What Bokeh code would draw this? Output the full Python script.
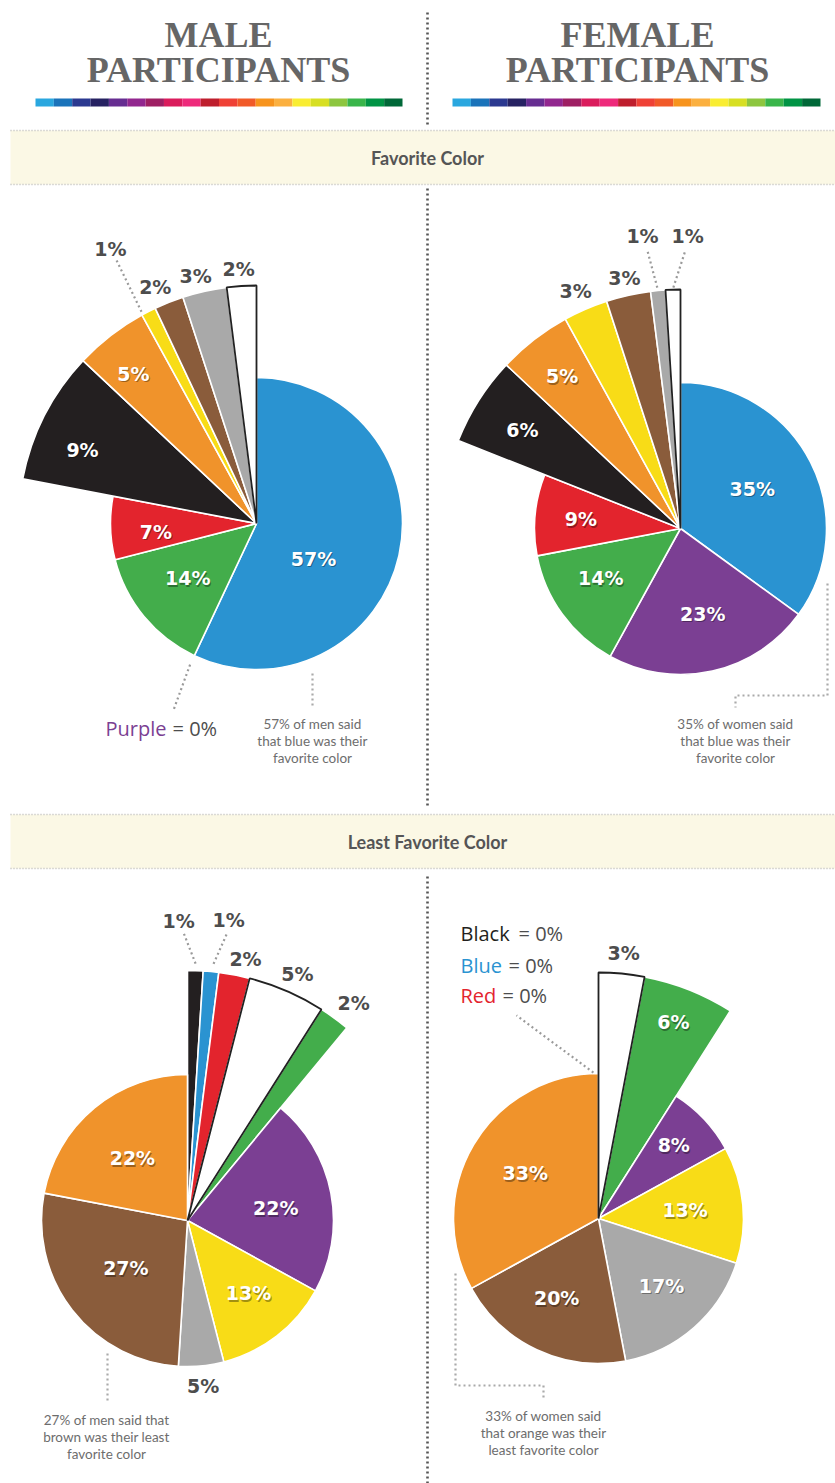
import math
from bokeh.plotting import figure
from bokeh.models import Range1d, ColumnDataSource
from bokeh.embed import file_html
from bokeh.resources import INLINE
from bokeh.core.properties import value

# ---------------- data ----------------
FAV_ORDER = ["Blue", "Purple", "Green", "Red", "Black", "Orange", "Yellow", "Brown", "Gray", "White"]
MALE_FAV = [57, 0, 14, 7, 9, 5, 1, 2, 3, 2]
FEMALE_FAV = [35, 23, 14, 9, 6, 5, 3, 3, 1, 1]

LEAST_ORDER = ["Black", "Blue", "Red", "White", "Green", "Purple", "Yellow", "Gray", "Brown", "Orange"]
MALE_LEAST = [1, 1, 2, 5, 2, 22, 13, 5, 27, 22]
FEMALE_LEAST = [0, 0, 0, 3, 6, 8, 13, 17, 20, 33]

HEADER_LEFT = ["MALE", "PARTICIPANTS"]
HEADER_RIGHT = ["FEMALE", "PARTICIPANTS"]
SECTION_TITLES = ["Favorite Color", "Least Favorite Color"]

# ---------------- styles ----------------
W, H = 835, 1483
SLICE_COLORS = {
    "Blue": "#2a93d1", "Purple": "#7b3f93", "Green": "#43ad4b", "Red": "#e3242d",
    "Black": "#231f20", "Orange": "#f0932b", "Yellow": "#f8dc17", "Brown": "#8a5c3b",
    "Gray": "#a9a9a9", "White": "#ffffff",
}
BAR_COLORS = ["#2aa7df", "#1a73ba", "#2b3990", "#262262", "#662d91", "#92278f", "#9e1f63",
              "#da1c5c", "#ee2a7b", "#be1e2d", "#ef4136", "#f15a29", "#f7941d", "#fbb040",
              "#f9ed32", "#d7df23", "#8dc63f", "#39b54a", "#009444", "#006838"]
DARK = "#4d4d4d"
NOTE_GRAY = "#6d6d6d"
DOT_GRAY = "#9a9a9a"
PCT_FONT = value("DejaVu Sans")


def Y(py):
    return H - py


p = figure(width=W, height=H, x_range=Range1d(0, W), y_range=Range1d(0, H),
           output_backend="svg", toolbar_location=None, min_border=0,
           x_axis_location=None, y_axis_location=None)
p.grid.visible = False
p.outline_line_color = None
p.background_fill_color = "#ffffff"
p.border_fill_color = "#ffffff"


def polar(cx, cy, theta, r):
    t = math.radians(theta)
    return cx + r * math.sin(t), cy - r * math.cos(t)


def dotted(xs, ys, color=DOT_GRAY, width=2.2, dash="2 3"):
    p.line([x for x in xs], [Y(y) for y in ys], line_color=color, line_width=width,
           line_dash=dash)


# ---------------- header ----------------
for cx, lines in ((218, HEADER_LEFT), (637, HEADER_RIGHT)):
    for i, t in enumerate(lines):
        p.text(x=[cx], y=[Y(34 + 35 * i)], text=[t], text_font=value("Liberation Serif"),
               text_font_style="bold", text_font_size="36px", text_color="#666666",
               text_align="center", text_baseline="middle")

for x0, x1 in ((35, 402), (452, 820)):
    n = len(BAR_COLORS)
    step = (x1 - x0) / n
    p.quad(left=[x0 + i * step for i in range(n)], right=[x0 + (i + 1) * step for i in range(n)],
           top=[Y(98)] * n, bottom=[Y(106)] * n, fill_color=BAR_COLORS, line_color=None)

# vertical divider
for y0, y1 in ((12, 126), (188, 808), (876, 1483)):
    dotted([427, 427], [y0, y1], color="#555555", width=2.6, dash="2 3")

# section bands
for (top, bot), title in zip(((130, 184), (814, 868)), SECTION_TITLES):
    p.quad(left=[10], right=[835], top=[Y(top)], bottom=[Y(bot)], fill_color="#fbf8e5",
           line_color=None)
    for yy in (top, bot):
        dotted([10, 835], [yy, yy], color="#b8b8b8", width=1.5, dash="1 2")
    p.text(x=[427], y=[Y((top + bot) / 2)], text=[title], text_font=value("Lato"),
           text_font_style="bold", text_font_size="18px", text_color="#555555",
           text_align="center", text_baseline="middle")


# ---------------- pies ----------------
def draw_pie(names, values, cx, cy, R, pulled, Rp, label_spec, leaders):
    total = float(sum(values))
    theta = 0.0
    normal = dict(x=[], y=[], r=[], sa=[], ea=[], fill=[])
    whites = dict(x=[], y=[], r=[], sa=[], ea=[], fill=[])
    lab_in = dict(x=[], y=[], t=[])
    lab_out = dict(x=[], y=[], t=[])
    for name, v in zip(names, values):
        if v == 0:
            continue
        sweep = 360.0 * v / total
        t1, t2 = theta, theta + sweep
        theta = t2
        tgt = whites if name == "White" else normal
        tgt["x"].append(cx)
        tgt["y"].append(Y(cy))
        tgt["r"].append(Rp if name in pulled else R)
        tgt["sa"].append(math.radians(90 - t1))
        tgt["ea"].append(math.radians(90 - t2))
        tgt["fill"].append(SLICE_COLORS[name])
        r_lab, dth, outside = label_spec[name]
        lx, ly = polar(cx, cy, (t1 + t2) / 2 + dth, r_lab)
        tgt_l = lab_out if outside else lab_in
        tgt_l["x"].append(lx)
        tgt_l["y"].append(Y(ly))
        tgt_l["t"].append(f"{v}%")
    p.wedge(x="x", y="y", radius="r", start_angle="sa", end_angle="ea", direction="clock",
            fill_color="fill", line_color="#ffffff", line_width=1.6,
            source=ColumnDataSource(normal))
    p.wedge(x="x", y="y", radius="r", start_angle="sa", end_angle="ea", direction="clock",
            fill_color="fill", line_color="#222222", line_width=1.8,
            source=ColumnDataSource(whites))
    for (ta, ra), (tb, rb) in leaders:
        xa, ya = polar(cx, cy, ta, ra)
        xb, yb = polar(cx, cy, tb, rb)
        dotted([xa, xb], [ya, yb])
    sh = dict(x=[x + 1 for x in lab_in["x"]], y=[y - 1.5 for y in lab_in["y"]], t=lab_in["t"])
    p.text(x="x", y="y", text="t", source=ColumnDataSource(sh), text_font=PCT_FONT,
           text_font_style="bold", text_font_size="19px", text_color="#000000",
           text_alpha=0.35, text_align="center", text_baseline="middle")
    p.text(x="x", y="y", text="t", source=ColumnDataSource(lab_in), text_font=PCT_FONT,
           text_font_style="bold", text_font_size="19px", text_color="#ffffff",
           text_align="center", text_baseline="middle")
    p.text(x="x", y="y", text="t", source=ColumnDataSource(lab_out), text_font=PCT_FONT,
           text_font_style="bold", text_font_size="19px", text_color=DARK,
           text_align="center", text_baseline="middle")


# male favourite
draw_pie(FAV_ORDER, MALE_FAV, 256, 523, 146,
         {"Black", "Orange", "Yellow", "Brown", "Gray", "White"}, 238,
         {"Blue": (67, 19, False), "Green": (88, 1, False), "Red": (101, -3, False),
          "Black": (189, -4, False), "Orange": (194, -1.6, False),
          "Yellow": (311, -1, True), "Brown": (257, -1.6, True),
          "Gray": (255, -1.2, True), "White": (255, -0.4, True)},
         [((331.5, 241), (332, 298))])

# female favourite
draw_pie(FAV_ORDER, FEMALE_FAV, 680, 528, 146,
         {"Black", "Orange", "Yellow", "Brown", "Gray", "White"}, 239,
         {"Blue": (82, -2, False), "Purple": (88, -2, False), "Green": (94, 4, False),
          "Red": (100, 0, False), "Black": (186, -0.6, False), "Orange": (193, 0, False),
          "Yellow": (260, -0.4, True), "Brown": (257, 0, True),
          "Gray": (295, -2, True), "White": (293, 3.2, True)},
         [((354.5, 242), (353.2, 280)), ((358.3, 241), (361, 278))])

# male least favourite
draw_pie(LEAST_ORDER, MALE_LEAST, 187, 1220, 146,
         {"Black", "Blue", "Red", "White", "Green"}, 250,
         {"Black": (300, -3.5, True), "Blue": (303, 2.4, True), "Red": (268, 1.7, True),
          "White": (270, 0.6, True), "Green": (274, 1.3, True), "Purple": (89, 3, False),
          "Yellow": (95, -2.2, False), "Gray": (166, 0, True), "Brown": (78, 0, False),
          "Orange": (83, -2, False)},
         [((1.8, 257), (359.2, 288)), ((5.8, 258), (7.9, 291))])

# female least favourite
draw_pie(LEAST_ORDER, FEMALE_LEAST, 598, 1218, 145,
         {"White", "Green"}, 246,
         {"White": (267, 0, True), "Green": (210, -0.7, False), "Purple": (105, -1, False),
          "Yellow": (87, 0, False), "Gray": (92, -1.8, False), "Brown": (90, 2.5, False),
          "Orange": (86, 1, False)},
         [])

# ---------------- zero-value notes ----------------
def zero_note(name, x_name, x_eq, y, align="left"):
    p.text(x=[x_name], y=[Y(y)], text=[name], text_font=value("Open Sans"),
           text_font_size="20px", text_color=SLICE_COLORS[name], text_align=align,
           text_baseline="middle")
    p.text(x=[x_eq], y=[Y(y)], text=["= 0%"], text_font=value("Open Sans"),
           text_font_size="20px", text_color=DARK, text_align="left", text_baseline="middle")


zero_note("Purple", 166, 172, 728, align="right")
mx, my = polar(256, 523, 205.2, 156)
mx2, my2 = polar(256, 523, 204, 203)
dotted([mx, mx2], [my, my2])

for name, v, xeq, yy in zip(["Black", "Blue", "Red"], FEMALE_LEAST[:3], [518, 508, 502], [933, 965, 995]):
    if v == 0:
        zero_note(name, 460, xeq, yy)
fx, fy = polar(598, 1218, 358, 146)
fx2, fy2 = polar(598, 1218, 338, 219)
dotted([fx, fx2], [fy, fy2])

# ---------------- callout notes ----------------
def note(lines, cx, y0):
    for i, t in enumerate(lines):
        p.text(x=[cx], y=[Y(y0 + 17 * i)], text=[t], text_font=value("Lato"),
               text_font_size="13.5px", text_color=NOTE_GRAY, text_align="center",
               text_baseline="middle")


note([f"{MALE_FAV[0]}% of men said", "that blue was their", "favorite color"], 312, 723)
dotted([312, 312], [673, 707], color="#aaaaaa")

note([f"{FEMALE_FAV[0]}% of women said", "that blue was their", "favorite color"], 735, 723)
dotted([827, 827, 735, 735], [583, 695, 695, 707], color="#aaaaaa")

note([f"{MALE_LEAST[8]}% of men said that", "brown was their least", "favorite color"], 106, 1419)
dotted([107, 107], [1353, 1400], color="#aaaaaa")

note([f"{FEMALE_LEAST[9]}% of women said", "that orange was their", "least favorite color"], 543, 1415)
dotted([455, 455, 543, 543], [1273, 1385, 1385, 1397], color="#aaaaaa")

open("out.html", "w").write(file_html(p, INLINE))
